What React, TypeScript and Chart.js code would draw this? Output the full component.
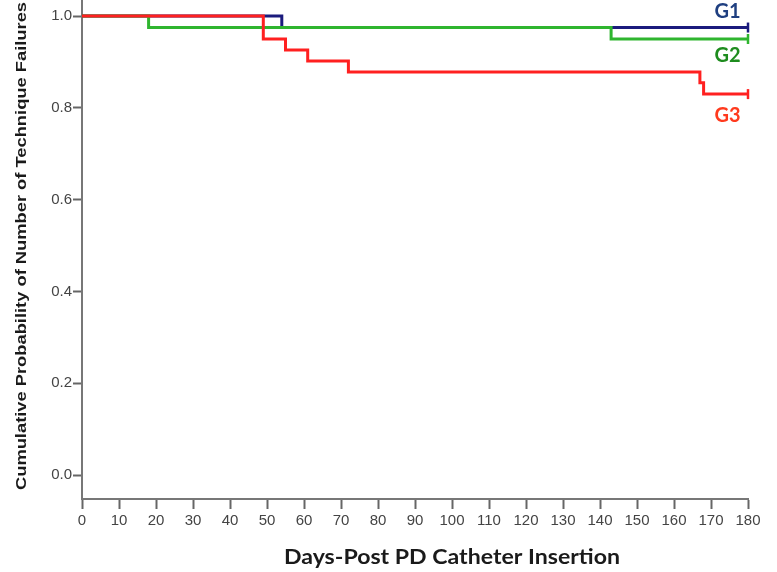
import React, { useEffect, useRef } from "react";
import { Chart, registerables } from "chart.js";

Chart.register(...registerables);

// ---- data ----
const g1Days = [0, 54, 180];
const g1Surv = [1.0, 0.975, 0.975];

const g2Days = [0, 18, 143, 180];
const g2Surv = [1.0, 0.975, 0.95, 0.95];

const g3Days = [0, 49, 55, 61, 72, 167, 168, 180];
const g3Surv = [1.0, 0.95, 0.926, 0.902, 0.878, 0.855, 0.83, 0.83];

const groupLabels = ["G1", "G2", "G3"];
const yTickValues = [0, 0.2, 0.4, 0.6, 0.8, 1.0];
const xMin = 0;
const xMax = 180;
const xStep = 10;

const xTitle = "Days-Post PD Catheter Insertion";
const yTitle = "Cumulative Probability of Number of Technique Failures";

const lineColors = ["#1b1b7d", "#2fb52f", "#ff2020"];
const labelColors = ["#1f3f80", "#1e8c1e", "#ff3a1e"];

function toPoints(days: number[], surv: number[]) {
  return days.map((d, i) => ({ x: d, y: surv[i] }));
}

function censorRadii(days: number[]) {
  return days.map((_, i) => (i === days.length - 1 ? 5 : 0));
}

const textPlugin = {
  id: "kmText",
  afterDraw(chart: any) {
    const ctx = chart.ctx;
    const x = chart.scales.x;
    const y = chart.scales.y;
    ctx.save();

    const fitText = (t: string, font: string, target: number) => {
      ctx.font = font;
      const w = ctx.measureText(t).width;
      return target / w;
    };

    // y title (rotated)
    {
      const font = "bold 15px 'Liberation Sans', Arial, sans-serif";
      const s = fitText(yTitle, font, 488);
      ctx.save();
      ctx.translate(22, 246);
      ctx.rotate(-Math.PI / 2);
      ctx.scale(s, 1);
      ctx.font = font;
      ctx.fillStyle = "#1a1a1a";
      ctx.textAlign = "center";
      ctx.textBaseline = "middle";
      ctx.fillText(yTitle, 0, 0);
      ctx.restore();
    }

    // x title
    {
      const font = "bold 21px Lato, 'Open Sans', sans-serif";
      const s = fitText(xTitle, font, 336);
      ctx.save();
      ctx.translate(452, 557);
      ctx.scale(s, 1);
      ctx.font = font;
      ctx.fillStyle = "#1a1a1a";
      ctx.textAlign = "center";
      ctx.textBaseline = "middle";
      ctx.fillText(xTitle, 0, 0);
      ctx.restore();
    }

    // group labels near end of curves
    const labelAnchors = [
      { day: 175, dy: -16, surv: g1Surv[g1Surv.length - 1] },
      { day: 175, dy: 17, surv: g2Surv[g2Surv.length - 1] },
      { day: 175, dy: 21, surv: g3Surv[g3Surv.length - 1] },
    ];
    ctx.font = "bold 20px Lato, 'Open Sans', sans-serif";
    ctx.textAlign = "center";
    ctx.textBaseline = "middle";
    groupLabels.forEach((lab, i) => {
      const a = labelAnchors[i];
      ctx.fillStyle = labelColors[i];
      ctx.fillText(lab, x.getPixelForValue(a.day) - 2, y.getPixelForValue(a.surv) + a.dy);
    });
    ctx.restore();
  },
};

export default function App() {
  const ref = useRef<HTMLCanvasElement | null>(null);

  useEffect(() => {
    if (!ref.current) return;
    const mk = (days: number[], surv: number[], i: number, order: number) => ({
      label: groupLabels[i],
      data: toPoints(days, surv),
      borderColor: lineColors[i],
      backgroundColor: lineColors[i],
      borderWidth: 3,
      stepped: true as const,
      fill: false,
      pointRadius: censorRadii(days),
      pointHoverRadius: 0,
      pointStyle: "line" as const,
      rotation: 90,
      pointBorderWidth: 2.5,
      pointBorderColor: lineColors[i],
      clip: false as any,
      order,
    });

    const tickFont = { family: "'Liberation Sans', Arial, sans-serif", size: 15 };

    const chart = new Chart(ref.current, {
      type: "line",
      data: {
        datasets: [
          mk(g1Days, g1Surv, 0, 3),
          mk(g2Days, g2Surv, 1, 2),
          mk(g3Days, g3Surv, 2, 1),
        ],
      },
      options: {
        animation: false,
        responsive: false,
        maintainAspectRatio: false,
        layout: { autoPadding: false, padding: { top: 0, right: 29, left: 0, bottom: 0 } },
        plugins: {
          legend: { display: false },
          tooltip: { enabled: false },
          title: { display: false },
        },
        scales: {
          x: {
            type: "linear",
            min: xMin,
            max: xMax,
            afterFit: (s: any) => {
              s.height = 73;
              s.paddingLeft = 0;
              s.paddingRight = 0;
            },
            ticks: {
              stepSize: xStep,
              color: "#444",
              font: tickFont,
              padding: 3,
              maxRotation: 0,
              autoSkip: false,
            },
            grid: {
              display: true,
              drawOnChartArea: false,
              drawTicks: true,
              tickLength: 10,
              tickColor: "#666",
              tickWidth: 2,
            },
            border: { display: true, color: "#777", width: 2 },
          },
          y: {
            type: "linear",
            min: -0.052,
            max: 1.035,
            afterFit: (s: any) => {
              s.width = 82;
              s.paddingTop = 0;
              s.paddingBottom = 0;
            },
            afterBuildTicks: (s: any) => {
              s.ticks = yTickValues.map((v) => ({ value: v }));
            },
            ticks: {
              color: "#444",
              font: tickFont,
              padding: 1,
              callback: (v: any) => Number(v).toFixed(1),
            },
            grid: {
              display: true,
              drawOnChartArea: false,
              drawTicks: true,
              tickLength: 9,
              tickColor: "#666",
              tickWidth: 2,
            },
            border: { display: true, color: "#777", width: 2 },
          },
        },
      },
      plugins: [textPlugin],
    });
    return () => chart.destroy();
  }, []);

  return (
    <div
      style={{
        position: "fixed",
        left: 0,
        top: 0,
        width: 777,
        height: 572,
        background: "#fff",
      }}
    >
      <canvas ref={ref} width={777} height={572} style={{ display: "block" }} />
    </div>
  );
}
